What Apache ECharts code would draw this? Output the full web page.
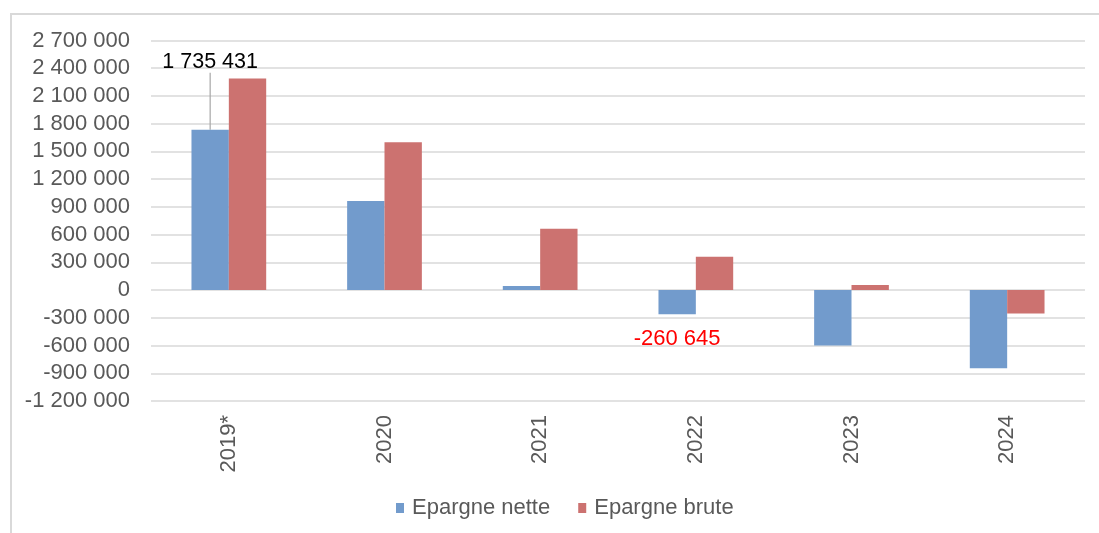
<!DOCTYPE html>
<html>
<head>
<meta charset="utf-8">
<script src="https://cdn.jsdelivr.net/npm/echarts@6/dist/echarts.min.js"></script>
<style>
  html, body { margin: 0; padding: 0; background: #fff; }
  #frame {
    position: absolute; left: 10px; top: 13px; width: 1089px; height: 520px;
    border-top: 2px solid #d9d9d9; border-left: 2px solid #d9d9d9; box-sizing: border-box;
  }
  #chart { position: absolute; left: 0; top: 0; width: 1099px; height: 533px; }
</style>
</head>
<body>
<div id="frame"></div>
<div id="chart"></div>
<script>
  // data
  const years = ['2019*', '2020', '2021', '2022', '2023', '2024'];
  const epargneNette = [1735431, 965000, 43000, -260645, -600000, -845000];
  const epargneBrute = [2290000, 1598000, 663000, 360000, 55000, -253000];
  const yTicks = { min: -1200000, max: 2700000, interval: 300000 };

  const fmt = v => String(v).replace(/\B(?=(\d{3})+(?!\d))/g, ' ');
  const font = '"Liberation Sans", Arial, sans-serif';

  // only two values carry a label in the original
  const netteData = epargneNette.map((v, i) => {
    if (i === 0) {
      return {
        value: v,
        label: {
          show: true, position: 'top', distance: 0, color: '#000', fontSize: 21.5,
          fontFamily: font, formatter: p => fmt(p.value)
        },
        labelLine: { show: true, lineStyle: { color: '#a6a6a6', width: 1.2 } }
      };
    }
    if (i === 3) {
      return {
        value: v,
        label: {
          show: true, position: 'outside', distance: 14, color: '#ff0000', fontSize: 22,
          fontFamily: font, formatter: p => fmt(p.value)
        }
      };
    }
    return v;
  });

  const chart = echarts.init(document.getElementById('chart'));
  chart.setOption({
    animation: false,
    backgroundColor: 'transparent',
    grid: { left: 151, right: 14, top: 40.5, bottom: 132 },
    legend: {
      top: 492, left: 391,
      itemWidth: 8, itemHeight: 10, itemGap: 28,
      icon: 'rect',
      textStyle: { color: '#595959', fontSize: 22, lineHeight: 22, fontFamily: font, padding: [0, 0, 0, 3] },
      data: ['Epargne nette', 'Epargne brute']
    },
    xAxis: {
      type: 'category',
      data: years,
      position: 'bottom',
      axisLine: { onZero: false, show: false },
      axisTick: { show: false },
      axisLabel: { rotate: 90, margin: 14, color: '#595959', fontSize: 22, fontFamily: font }
    },
    yAxis: {
      type: 'value',
      min: yTicks.min, max: yTicks.max, interval: yTicks.interval,
      axisLine: { show: false },
      axisTick: { show: false },
      splitLine: { lineStyle: { color: '#d9d9d9', width: 1.5 } },
      axisLabel: { margin: 21, color: '#595959', fontSize: 22, fontFamily: font, formatter: v => fmt(v) }
    },
    series: [
      {
        name: 'Epargne nette', type: 'bar', data: netteData,
        barGap: '0%', barCategoryGap: '52%',
        itemStyle: { color: '#729bcc' },
        labelLayout: (params) => params.dataIndex === 0 ? { dy: -57 } : {}
      },
      {
        name: 'Epargne brute', type: 'bar', data: epargneBrute,
        barGap: '0%', barCategoryGap: '52%',
        itemStyle: { color: '#cc7270' }
      }
    ]
  });
</script>
</body>
</html>
